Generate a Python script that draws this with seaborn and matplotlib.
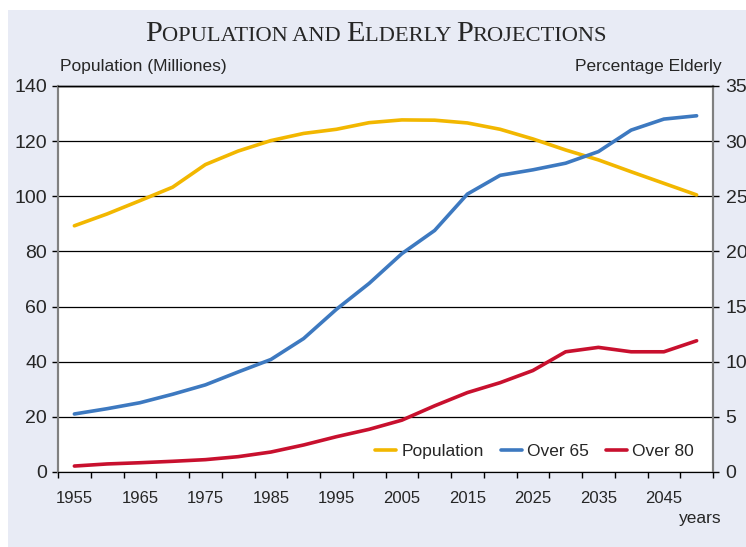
import matplotlib
matplotlib.use("Agg")
import matplotlib.pyplot as plt
import matplotlib.patches as mpatches
from matplotlib.lines import Line2D
import seaborn as sns
import pandas as pd

years = list(range(1955, 2051, 5))
population = [89.3, 93.6, 98.4, 103.3, 111.5, 116.4, 120.2, 122.8, 124.3, 126.7,
              127.7, 127.6, 126.6, 124.3, 120.8, 116.8, 113.2, 108.9, 104.7, 100.5]
over65 = [5.26, 5.74, 6.28, 7.05, 7.9, 9.07, 10.2, 12.1, 14.75, 17.1,
          19.8, 21.9, 25.2, 26.9, 27.4, 28.0, 29.05, 31.0, 32.0, 32.3]
over80 = [0.54, 0.73, 0.84, 0.97, 1.12, 1.39, 1.81, 2.45, 3.2, 3.87,
          4.7, 6.0, 7.2, 8.1, 9.2, 10.9, 11.3, 10.9, 10.9, 11.9]
xlabels = [str(y) for y in years[::2]]

c_pop = "#F2B700"
c_65 = "#3D79C0"
c_80 = "#C8102E"

sns.set_style("white")
plt.rcParams['font.family'] = ['Liberation Sans', 'DejaVu Sans']

df = pd.DataFrame({"idx": range(len(years)), "pop": population,
                   "o65": over65, "o80": over80})

fig = plt.figure(figsize=(7.46, 5.47), dpi=100)
fig.patch.set_facecolor("white")
fig.patches.append(mpatches.Rectangle((8 / 746, 0), 1, 1 - 10 / 547,
                                      transform=fig.transFigure,
                                      facecolor="#E8EBF5", edgecolor="none",
                                      zorder=-10))

ax = fig.add_axes([58 / 746, 75 / 547, 655 / 746, 386 / 547])
ax.set_facecolor("white")
ax2 = ax.twinx()

sns.lineplot(data=df, x="idx", y="pop", ax=ax, color=c_pop, lw=2.6)
sns.lineplot(data=df, x="idx", y="o65", ax=ax2, color=c_65, lw=2.6)
sns.lineplot(data=df, x="idx", y="o80", ax=ax2, color=c_80, lw=2.6)

ax.set_xlim(-0.5, len(years) - 0.5)
ax.set_ylim(0, 140)
ax2.set_ylim(0, 35)
ax.set_yticks(range(0, 141, 20))
ax2.set_yticks(range(0, 36, 5))
ax.set_xticks(range(0, len(years), 2))
ax.set_xticklabels(xlabels)
ax.set_xticks([i - 0.5 for i in range(len(years) + 1)], minor=True)
ax.set_xlabel("")
ax.set_ylabel("")
ax2.set_ylabel("")

ax.grid(axis="y", color="black", lw=0.9)
ax.set_axisbelow(True)

ax.tick_params(axis="x", which="major", length=0, pad=14, labelsize=12)
ax.tick_params(axis="x", which="minor", length=4, width=1, color="black",
               direction="out", bottom=True)
ax.tick_params(axis="y", length=4, width=1, color="black", direction="out",
               pad=4, labelsize=14, left=True)
ax2.tick_params(axis="y", length=4, width=1, color="black", direction="out",
                pad=5, labelsize=14, right=True)

for a in (ax, ax2):
    for s in a.spines.values():
        s.set_visible(True)
    a.spines["left"].set_color("#808080")
    a.spines["right"].set_color("#808080")
    a.spines["left"].set_linewidth(1.5)
    a.spines["right"].set_linewidth(1.5)
    a.spines["bottom"].set_color("black")
    a.spines["top"].set_color("black")
    a.spines["top"].set_linewidth(1)

handles = [Line2D([], [], color=c_pop, lw=2.6),
           Line2D([], [], color=c_65, lw=2.6),
           Line2D([], [], color=c_80, lw=2.6)]
ax2.legend(handles, ["Population", "Over 65", "Over 80"], ncol=3,
           loc="lower right", bbox_to_anchor=(0.995, -0.008), frameon=False,
           fontsize=12.5, handlelength=1.2, handletextpad=0.3,
           columnspacing=1.0)

fig.text(60 / 746, 1 - 67 / 547, "Population (Milliones)", fontsize=12.5,
         ha="left", va="center")
fig.text(722 / 746, 1 - 67 / 547, "Percentage Elderly", fontsize=12.5,
         ha="right", va="center")
fig.text(700 / 746, 1 - 519 / 547, "years", fontsize=12.5, ha="center",
         va="center")

# small caps title built from pieces
pieces = [("P", 21.8), ("OPULATION AND ", 16.2), ("E", 21.8), ("LDERLY ", 16.2),
          ("P", 21.8), ("ROJECTIONS", 16.2)]
renderer = fig.canvas.get_renderer()
texts = []
for s, size in pieces:
    t = fig.text(0, 1 - 41 / 547, s, fontsize=size, family="Liberation Serif",
                 ha="left", va="baseline")
    texts.append(t)
widths = [t.get_window_extent(renderer).width for t in texts]
total = sum(widths)
x0 = 376 - total / 2
for t, w in zip(texts, widths):
    t.set_x(x0 / 746)
    x0 += w

fig.savefig("out.png", dpi=100)
